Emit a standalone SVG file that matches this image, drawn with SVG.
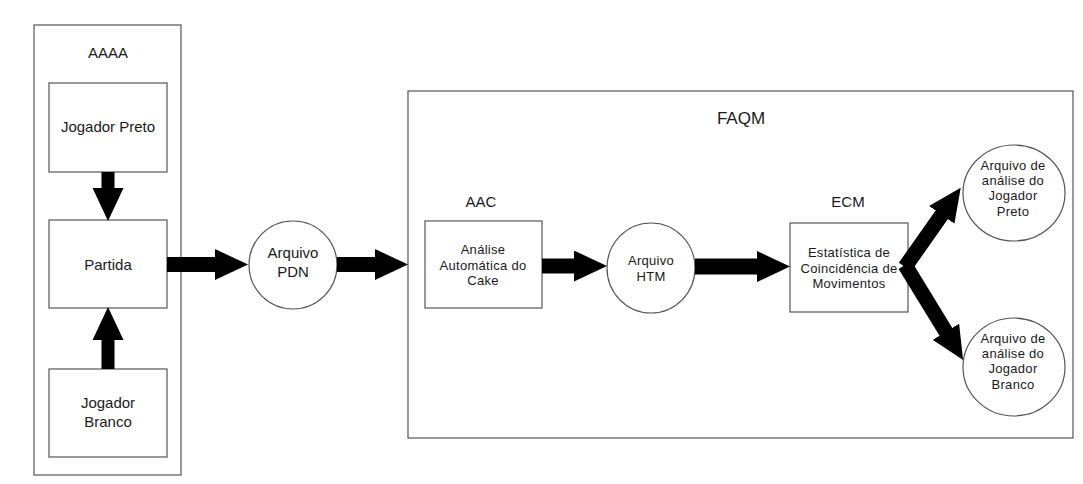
<svg xmlns="http://www.w3.org/2000/svg" width="1083" height="484" viewBox="0 0 1083 484">
<defs>
<style>
.box{fill:#fff;stroke:#555;stroke-width:1.2}
.node{fill:#fff;stroke:#555;stroke-width:1.2}
.t{font-family:"Liberation Sans",Arial,sans-serif;fill:#1a1a1a;text-anchor:middle}
.lg{font-size:15px}
.sm{font-size:13px;letter-spacing:0.3px}
.ttl{font-size:17px}
.arr{stroke:#000;fill:none;marker-end:url(#ah)}
</style>
<marker id="ah" markerUnits="userSpaceOnUse" markerWidth="33" markerHeight="31" viewBox="0 0 33 31" refX="1" refY="15.5" orient="auto">
<path d="M0,0 L33,15.5 L0,31 z" fill="#000"/>
</marker>
</defs>
<rect width="1083" height="484" fill="#fff"/>
<g id="AAAA">
<rect class="box" x="34" y="25" width="147" height="450"/>
<text class="t lg" x="108" y="58">AAAA</text>
</g>
<g id="FAQM">
<rect class="box" x="408" y="91" width="665" height="347"/>
<text class="t ttl" x="741" y="124">FAQM</text>
</g>
<g id="jogador-preto">
<rect class="node" x="49" y="83" width="118" height="89"/>
<text class="t lg" x="108" y="132">Jogador Preto</text>
</g>
<g id="partida">
<rect class="node" x="49" y="220" width="118" height="88"/>
<text class="t lg" x="108" y="270">Partida</text>
</g>
<g id="jogador-branco">
<rect class="node" x="49" y="369" width="118" height="88"/>
<text class="t lg" x="108" y="408">Jogador</text>
<text class="t lg" x="108" y="427">Branco</text>
</g>
<g id="arquivo-pdn">
<circle class="node" cx="293" cy="265" r="44"/>
<text class="t lg" x="293" y="258">Arquivo</text>
<text class="t lg" x="293" y="277">PDN</text>
</g>
<g id="aac">
<text class="t lg" x="481" y="207">AAC</text>
<rect class="node" x="425" y="221" width="117" height="87"/>
<text class="t sm" x="483" y="254">Análise</text>
<text class="t sm" x="483" y="270">Automática do</text>
<text class="t sm" x="483" y="285">Cake</text>
</g>
<g id="arquivo-htm">
<ellipse class="node" cx="651" cy="268" rx="44" ry="45"/>
<text class="t sm" x="651" y="265">Arquivo</text>
<text class="t sm" x="651" y="281">HTM</text>
</g>
<g id="ecm">
<text class="t lg" x="848" y="207">ECM</text>
<rect class="node" x="790" y="223" width="118" height="89"/>
<text class="t sm" x="849" y="257">Estatística de</text>
<text class="t sm" x="849" y="273">Coincidência de</text>
<text class="t sm" x="849" y="288">Movimentos</text>
</g>
<g id="arquivo-preto">
<ellipse class="node" cx="1014" cy="193" rx="51" ry="48"/>
<text class="t sm" x="1013" y="170">Arquivo de</text>
<text class="t sm" x="1013" y="185">análise do</text>
<text class="t sm" x="1013" y="200">Jogador</text>
<text class="t sm" x="1013" y="216">Preto</text>
</g>
<g id="arquivo-branco">
<ellipse class="node" cx="1014" cy="367" rx="51" ry="49"/>
<text class="t sm" x="1013" y="343">Arquivo de</text>
<text class="t sm" x="1013" y="358">análise do</text>
<text class="t sm" x="1013" y="373">Jogador</text>
<text class="t sm" x="1013" y="389">Branco</text>
</g>
<g id="connectors">
<line class="arr" x1="108" y1="172" x2="108" y2="189" stroke-width="13"/>
<line class="arr" x1="108" y1="369" x2="108" y2="339" stroke-width="13"/>
<line class="arr" x1="167" y1="264.5" x2="216" y2="264.5" stroke-width="15"/>
<line class="arr" x1="337" y1="264.5" x2="376" y2="264.5" stroke-width="15"/>
<line class="arr" x1="542" y1="266" x2="575" y2="266" stroke-width="15"/>
<line class="arr" x1="695" y1="266.5" x2="758" y2="266.5" stroke-width="16"/>
<line class="arr" x1="905" y1="267" x2="942.3" y2="214" stroke-width="15"/>
<line class="arr" x1="905" y1="265" x2="946.4" y2="332.6" stroke-width="15"/>
</g>
</svg>
